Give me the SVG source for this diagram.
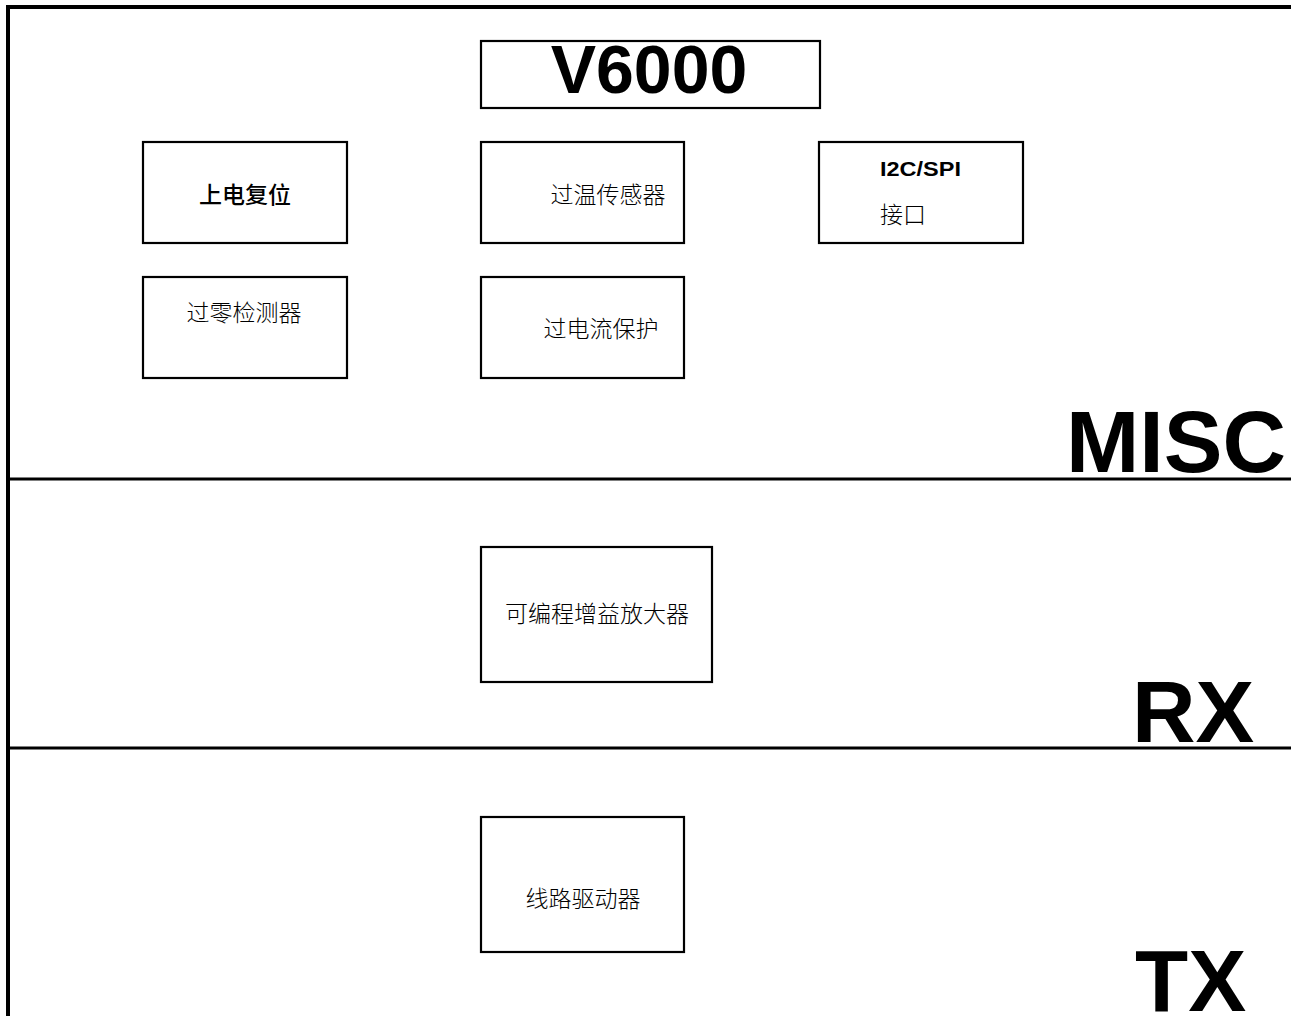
<svg xmlns="http://www.w3.org/2000/svg" width="1291" height="1016" viewBox="0 0 1291 1016">
<style>
.box{fill:#fff;stroke:#000;stroke-width:2.2}
.frame{fill:none;stroke:#000;stroke-width:4}
.div{fill:none;stroke:#000;stroke-width:3}
.cjk{font-family:"Noto Sans CJK SC","Noto Sans CJK JP",sans-serif;font-size:23px;font-weight:300;fill:#000;text-anchor:middle}
.big{font-family:"Liberation Sans",Arial,sans-serif;font-weight:bold;fill:#000}
</style>
<rect width="1291" height="1016" fill="#fff"/>
<g id="frame">
<path class="frame" d="M8,1016 V7 H1291"/>
<line class="div" x1="8" y1="479" x2="1291" y2="479"/>
<line class="div" x1="8" y1="748" x2="1291" y2="748"/>
</g>
<g id="sections">
<text class="big" x="1066" y="472" font-size="88">MISC</text>
<text class="big" x="1132" y="742" font-size="88">RX</text>
<text class="big" x="1135" y="1011" font-size="87">TX</text>
</g>
<g id="title">
<rect class="box" x="481" y="41" width="339" height="67"/>
<text class="big" x="649" y="93" font-size="68" text-anchor="middle">V6000</text>
</g>
<g id="power-reset">
<rect class="box" x="143" y="142" width="204" height="101"/>
<text class="cjk" x="245" y="203" style="font-weight:500">上电复位</text>
</g>
<g id="zero-cross">
<rect class="box" x="143" y="277" width="204" height="101"/>
<text class="cjk" x="244" y="321">过零检测器</text>
</g>
<g id="over-temp">
<rect class="box" x="481" y="142" width="203" height="101"/>
<text class="cjk" x="608" y="203">过温传感器</text>
</g>
<g id="over-current">
<rect class="box" x="481" y="277" width="203" height="101"/>
<text class="cjk" x="601" y="337">过电流保护</text>
</g>
<g id="i2c-spi">
<rect class="box" x="819" y="142" width="204" height="101"/>
<text class="big" x="880" y="176" font-size="20" textLength="81" lengthAdjust="spacingAndGlyphs">I2C/SPI</text>
<text class="cjk" x="903" y="223">接口</text>
</g>
<g id="pga">
<rect class="box" x="481" y="547" width="231" height="135"/>
<text class="cjk" x="597" y="622">可编程增益放大器</text>
</g>
<g id="line-driver">
<rect class="box" x="481" y="817" width="203" height="135"/>
<text class="cjk" x="583" y="907">线路驱动器</text>
</g>
</svg>
